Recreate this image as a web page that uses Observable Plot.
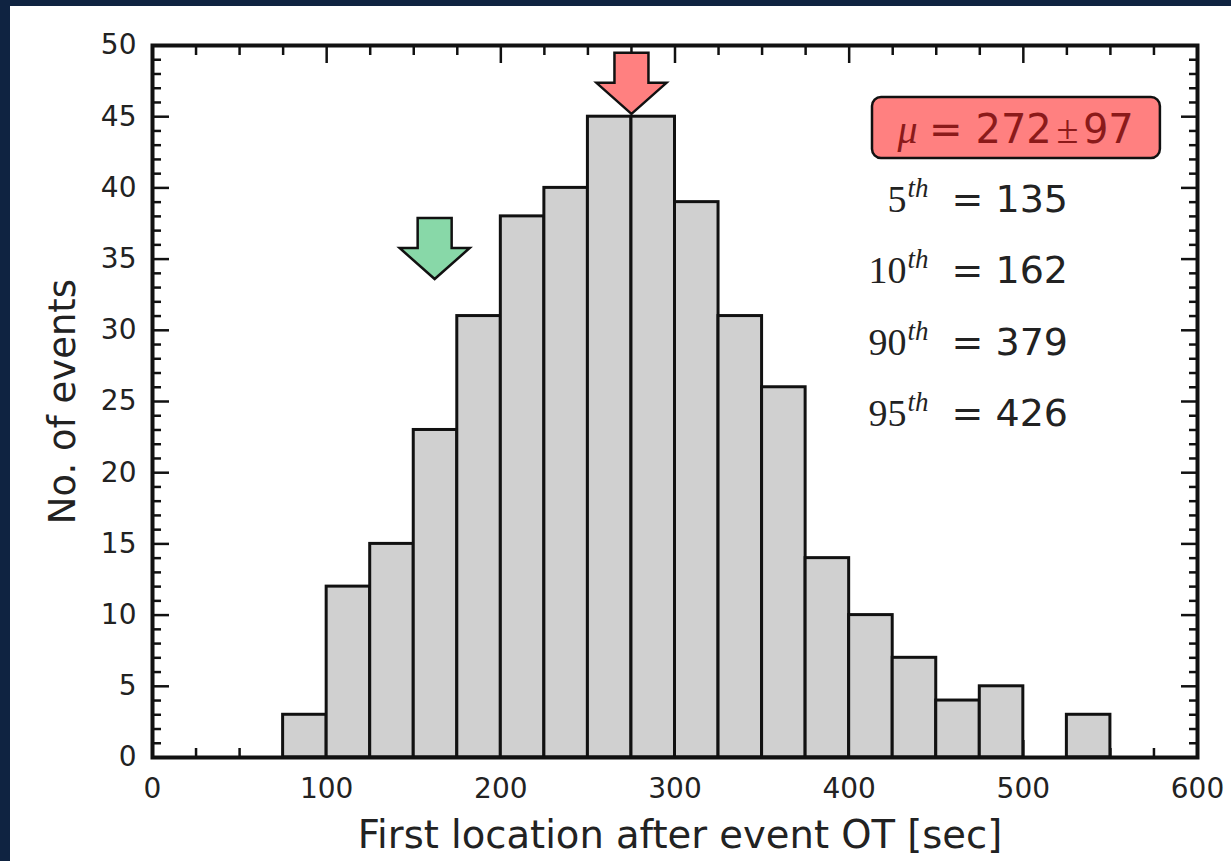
<!DOCTYPE html>
<html><head><meta charset="utf-8">
<script src="https://cdn.jsdelivr.net/npm/d3@7"></script>
<script src="https://cdn.jsdelivr.net/npm/@observablehq/plot@0.6"></script>
<style>
html,body{margin:0;padding:0;background:#fff;}
body{width:1221px;height:855px;border-top:6px solid #0f2341;border-left:10px solid #0f2341;overflow:hidden}
#chart svg{display:block;background:#fff}
</style></head><body><div id="chart"></div>
<script>
// ---- data ----
const binStart = [75,100,125,150,175,200,225,250,275,300,325,350,375,400,425,450,475,500,525];
const binWidth = 25;
const counts   = [3,12,15,23,31,38,40,45,45,39,31,26,14,10,7,4,5,0,3];
const percentileNames  = ["5","10","90","95"];
const percentileValues = [135,162,379,426];
const meanValue = 272, meanSpread = 97;
const arrowX     = [275, 162];
const arrowTip   = [45.2, 33.6];
const arrowColors = ["#ff8080", "#88d8a8"];
const xMajor = [0,100,200,300,400,500,600];
const yMajor = [0,5,10,15,20,25,30,35,40,45,50];
const xLabel = "First location after event OT [sec]";
const yLabel = "No. of events";

// ---- derived tables ----
const xMinor = d3.range(0, 601, 25).filter(v => v % 100 !== 0);
const yMinor = d3.range(0, 51, 1).filter(v => v % 5 !== 0);
const bars = binStart.map((x0, i) => ({x1: x0, x2: x0 + binWidth, count: counts[i]})).filter(d => d.count > 0);
const arrows = arrowX.map((x, i) => ({x, y: arrowTip[i], fill: arrowColors[i]}));
const rows = percentileNames.map((n, i) => ({n, v: percentileValues[i], i}));

const serif = "'Liberation Serif','DejaVu Serif',serif";
const sans = "'DejaVu Sans',sans-serif";
const ink = "#111";
const boxInk = "#8b1a1a";

const arrowSymbol = {draw(ctx) {
  ctx.moveTo(0, 0); ctx.lineTo(-35, -31); ctx.lineTo(-17, -31); ctx.lineTo(-17, -61);
  ctx.lineTo(17, -61); ctx.lineTo(17, -31); ctx.lineTo(35, -31); ctx.closePath();
}};

const rowY = d => 38.3 - 5 * d.i;
const tickOpts = {text: null, label: null, stroke: ink, strokeWidth: 2.5};
const boxText = {y: () => 43.12, textAnchor: "start", lineAnchor: "bottom", fontSize: 40, fill: boxInk};

const chart = Plot.plot({
  width: 1221, height: 855,
  marginLeft: 142, marginRight: 34, marginTop: 39, marginBottom: 104,
  style: {fontFamily: sans, background: "#fff", color: ink},
  x: {domain: [0, 600], label: null},
  y: {domain: [0, 50], label: null},
  color: {type: "identity"},
  marks: [
    // ticks (inward, on all four sides)
    Plot.axisX(xMajor, {...tickOpts, anchor: "bottom", tickSize: -17}),
    Plot.axisX(xMinor, {...tickOpts, anchor: "bottom", tickSize: -9}),
    Plot.axisX(xMajor, {...tickOpts, anchor: "top", tickSize: -17}),
    Plot.axisX(xMinor, {...tickOpts, anchor: "top", tickSize: -9}),
    Plot.axisY(yMajor, {...tickOpts, anchor: "left", tickSize: -17}),
    Plot.axisY(yMinor, {...tickOpts, anchor: "left", tickSize: -9}),
    Plot.axisY(yMajor, {...tickOpts, anchor: "right", tickSize: -17}),
    Plot.axisY(yMinor, {...tickOpts, anchor: "right", tickSize: -9}),
    // tick labels
    Plot.axisX(xMajor, {anchor: "bottom", tickSize: 0, tickPadding: 21, fontSize: 28, label: null, fill: "#222"}),
    Plot.axisY(yMajor, {anchor: "left", tickSize: 0, tickPadding: 16, fontSize: 28, label: null, fill: "#222"}),
    // histogram
    Plot.rect(bars, {x1: "x1", x2: "x2", y1: 0, y2: "count", fill: "#d0d0d0", stroke: ink, strokeWidth: 3, inset: 0}),
    // arrows
    Plot.dot(arrows, {x: "x", y: "y", symbol: arrowSymbol, fill: "fill", stroke: ink, strokeWidth: 2.5, strokeLinejoin: "miter"}),
    // mean box
    Plot.rect([meanValue], {x1: () => 413.4, x2: () => 578.7, y1: () => 42.06, y2: () => 46.35, rx: 9, fill: "#ff8080", stroke: ink, strokeWidth: 2.5}),
    Plot.text(["μ"], {...boxText, x: () => 427.8, fontFamily: serif, fontStyle: "italic"}),
    Plot.text(["="], {...boxText, x: () => 445.8}),
    Plot.text([meanValue], {...boxText, x: () => 472.5, text: d => `${d}`}),
    Plot.text(["±"], {...boxText, x: () => 519.0, fontFamily: serif}),
    Plot.text([meanSpread], {...boxText, x: () => 534.2, text: d => `${d}`}),
    // percentiles
    Plot.text(rows, {x: () => 432.9, y: rowY, text: "n", textAnchor: "end", lineAnchor: "bottom", fontFamily: serif, fontSize: 38, fill: "#222"}),
    Plot.text(rows, {x: () => 432.9, y: rowY, text: () => "th", dx: 1, dy: -15, textAnchor: "start", lineAnchor: "bottom", fontFamily: serif, fontStyle: "italic", fontSize: 27, fill: "#222"}),
    Plot.text(rows, {x: () => 458.8, y: rowY, text: d => `= ${d.v}`, textAnchor: "start", lineAnchor: "bottom", fontSize: 38, fill: "#222"}),
    // axis labels
    Plot.text([xLabel], {frameAnchor: "bottom", textAnchor: "middle", dx: 5, dy: 90, fontSize: 38.5, fill: "#222"}),
    Plot.text([yLabel], {frameAnchor: "left", textAnchor: "middle", dx: -89, rotate: -90, fontSize: 37, fill: "#222"}),
    // spines
    Plot.frame({stroke: ink, strokeWidth: 4})
  ]
});
document.getElementById("chart").append(chart);
</script></body></html>
